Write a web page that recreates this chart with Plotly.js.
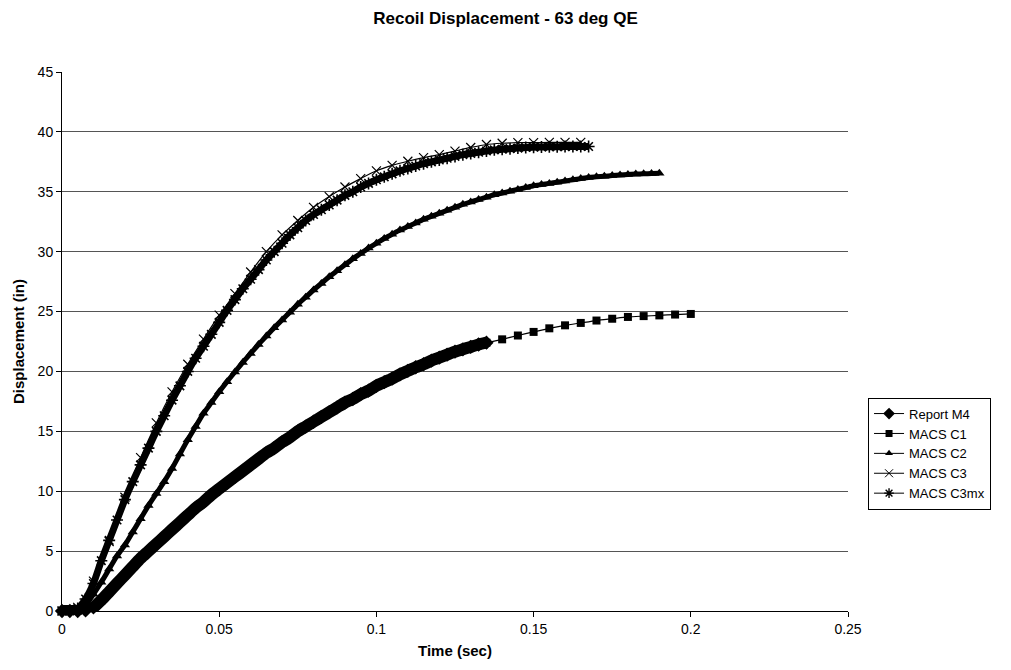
<!DOCTYPE html>
<html>
<head>
<meta charset="utf-8">
<script src="https://cdn.plot.ly/plotly-3.0.1.min.js"></script>
<style>
  html, body { margin: 0; padding: 0; background: #ffffff; }
  #chart { width: 1011px; height: 670px; }
</style>
</head>
<body>
<div id="chart"></div>
<script>
// ---- Data (time in sec, displacement in inches) ----
var seriesNames = ["Report M4", "MACS C1", "MACS C2", "MACS C3", "MACS C3mx"];

var timeFine = [0,0.0025,0.005,0.0075,0.01,0.0125,0.015,0.0175,0.02,0.0225,0.025,0.0275,0.03,0.0325,0.035,0.0375,0.04,0.0425,0.045,0.0475,0.05,0.0525,0.055,0.0575,0.06,0.0625,0.065,0.0675,0.07,0.0725,0.075,0.0775,0.08,0.0825,0.085,0.0875,0.09,0.0925,0.095,0.0975,0.1,0.1025,0.105,0.1075,0.11,0.1125,0.115,0.1175,0.12,0.1225,0.125,0.1275,0.13,0.1325,0.135,0.1375,0.14,0.1425,0.145,0.1475,0.15,0.1525,0.155,0.1575,0.16,0.1625,0.165,0.1675,0.17,0.1725,0.175,0.1775,0.18,0.1825,0.185,0.1875,0.19];

var timeCoarse = [0,0.005,0.01,0.015,0.02,0.025,0.03,0.035,0.04,0.045,0.05,0.055,0.06,0.065,0.07,0.075,0.08,0.085,0.09,0.095,0.1,0.105,0.11,0.115,0.12,0.125,0.13,0.135,0.14,0.145,0.15,0.155,0.16,0.165,0.17,0.175,0.18,0.185,0.19,0.195,0.2];

var dispM4 = [0,0,0,0.05,0.3,0.9,1.6,2.3,3.0,3.7,4.4,5.0,5.6,6.2,6.8,7.4,8.0,8.6,9.1,9.7,10.2,10.7,11.2,11.7,12.2,12.7,13.2,13.6,14.1,14.5,15.0,15.4,15.8,16.2,16.6,17.0,17.4,17.7,18.1,18.4,18.8,19.1,19.4,19.75,20.05,20.35,20.6,20.9,21.15,21.4,21.65,21.85,22.05,22.25,22.4];

var dispC1 = [0,0,0.3,1.6,3.0,4.4,5.6,6.8,8.0,9.1,10.2,11.2,12.2,13.2,14.1,15.0,15.8,16.6,17.4,18.1,18.8,19.4,20.05,20.6,21.15,21.65,22.05,22.4,22.68,23.0,23.3,23.6,23.85,24.05,24.25,24.4,24.55,24.62,24.68,24.75,24.8];

var dispC2 = [0,0,0.1,0.5,1.4,2.4,3.5,4.6,5.5,6.6,7.7,8.8,9.8,10.8,11.9,13.1,14.3,15.4,16.5,17.4,18.3,19.15,19.95,20.75,21.5,22.25,22.95,23.65,24.3,24.95,25.6,26.2,26.8,27.35,27.9,28.4,28.9,29.4,29.85,30.3,30.7,31.1,31.45,31.8,32.1,32.4,32.7,32.95,33.2,33.45,33.7,33.95,34.15,34.35,34.55,34.75,34.9,35.05,35.2,35.35,35.5,35.6,35.7,35.8,35.9,36.0,36.1,36.2,36.25,36.3,36.35,36.4,36.45,36.48,36.5,36.52,36.55];

var dispC3 = [0,0.3,2.5,5.8,9.5,12.8,15.7,18.3,20.6,22.7,24.7,26.5,28.3,30.0,31.4,32.6,33.7,34.6,35.4,36.1,36.75,37.2,37.55,37.85,38.1,38.4,38.7,38.95,39.05,39.1,39.1,39.12,39.12,39.12];

var dispC3mx = [0,0,0.2,1.0,2.3,4.2,5.9,7.6,9.3,10.8,12.2,13.6,15.0,16.3,17.6,18.8,20.0,21.1,22.1,23.1,24.1,25.1,26.0,26.9,27.7,28.5,29.3,30.0,30.7,31.4,32.0,32.6,33.1,33.5,33.9,34.3,34.7,35.0,35.4,35.7,36.0,36.25,36.5,36.75,36.95,37.15,37.35,37.5,37.65,37.8,37.95,38.1,38.2,38.3,38.4,38.5,38.55,38.6,38.65,38.7,38.72,38.74,38.75,38.76,38.77,38.78,38.78,38.78];

var xTicks = [0, 0.05, 0.1, 0.15, 0.2, 0.25];
var yTicks = [0, 5, 10, 15, 20, 25, 30, 35, 40, 45];

// ---- Traces ----
var black = "#000000";
var symbols = ["diamond", "square", "triangle-up", "x-thin-open", "asterisk-open"];

function band(x, y, lineW, marker) {
  return { type: "scatter", mode: "lines+markers", x: x, y: y, showlegend: false,
           line: { color: black, width: lineW, shape: "spline", smoothing: 0.6 },
           marker: marker, cliponaxis: false, hoverinfo: "skip" };
}
function legendItem(i, size, mlw) {
  var mk = { symbol: symbols[i], size: size, color: black };
  if (mlw) mk.line = { color: black, width: mlw };
  return { type: "scatter", mode: "lines+markers", name: seriesNames[i],
           x: [null], y: [null], line: { color: black, width: 1 }, marker: mk };
}

var data = [
  band(timeFine.slice(0, dispM4.length), dispM4, 12,
       { symbol: symbols[0], size: 11, color: black }),
  band(timeCoarse.slice(0, dispC1.length), dispC1, 1.2,
       { symbol: symbols[1], size: 8, color: black }),
  band(timeFine.slice(0, dispC2.length), dispC2, 5,
       { symbol: symbols[2], size: 9, color: black }),
  band(timeFine.slice(0, dispC3mx.length), dispC3mx, 7,
       { symbol: symbols[4], size: 10, color: black, line: { color: black, width: 1.6 } }),
  band(timeCoarse.slice(0, dispC3.length), dispC3, 1.2,
       { symbol: symbols[3], size: 9, color: black, line: { color: black, width: 1.2 } }),
  legendItem(0, 9),
  legendItem(1, 7),
  legendItem(2, 7),
  legendItem(3, 8, 1),
  legendItem(4, 8, 1.4)
];

var font = "Liberation Sans, Arial, sans-serif";
var layout = {
  width: 1011, height: 670,
  paper_bgcolor: "#ffffff", plot_bgcolor: "#ffffff",
  margin: { l: 62, r: 163, t: 72, b: 59 },
  font: { family: font, size: 14, color: black },
  title: { text: "<b>Recoil Displacement - 63 deg QE</b>", x: 0.5, xanchor: "center",
           y: 1 - 18 / 670, yanchor: "middle", font: { family: font, size: 17, color: black } },
  xaxis: {
    range: [0, 0.25], tickvals: xTicks, ticktext: xTicks.map(String),
    showgrid: false, zeroline: false, showline: true, linecolor: black, linewidth: 1,
    ticks: "outside", ticklen: 5, tickcolor: black, tickwidth: 1,
    tickfont: { family: font, size: 14, color: black },
    title: { text: "<b>Time (sec)</b>", font: { family: font, size: 15, color: black }, standoff: 9 }
  },
  yaxis: {
    range: [0, 45], tickvals: yTicks, ticktext: yTicks.map(String),
    showgrid: true, gridcolor: "#555555", gridwidth: 1,
    zeroline: false, showline: true, linecolor: black, linewidth: 1,
    ticks: "outside", ticklen: 5, tickcolor: black, tickwidth: 1,
    tickfont: { family: font, size: 14, color: black },
    title: { text: "<b>Displacement (in)</b>", font: { family: font, size: 15, color: black }, standoff: 9 }
  },
  showlegend: true,
  legend: {
    x: 1.0255, xanchor: "left", y: 0.292, yanchor: "middle",
    bgcolor: "#ffffff", bordercolor: black, borderwidth: 1,
    font: { family: font, size: 13, color: black },
    tracegroupgap: 0, itemwidth: 30
  }
};

Plotly.newPlot("chart", data, layout, { staticPlot: true, displayModeBar: false });
</script>
</body>
</html>
